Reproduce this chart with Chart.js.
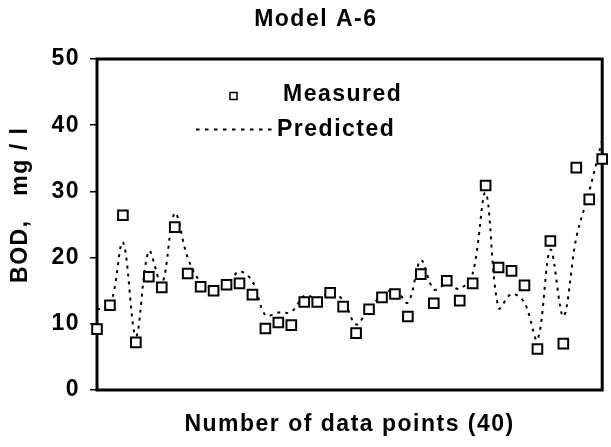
<!DOCTYPE html>
<html>
<head>
<meta charset="utf-8">
<script src="https://cdn.jsdelivr.net/npm/chart.js@4/dist/chart.umd.min.js"></script>
<style>
  body { margin: 0; background: #fff; }
  #wrap { width: 611px; height: 447px; }
</style>
</head>
<body>
<div id="wrap"><canvas id="myChart" width="611" height="447"></canvas></div>
<script>
// data points 1..40
const pointNumbers = [];
for (let i = 1; i <= 40; i++) pointNumbers.push(i);

const measured = [
  9.2, 12.8, 26.4, 7.2, 17.1, 15.5, 24.6, 17.6, 15.6, 15.0,
  15.9, 16.1, 14.4, 9.3, 10.2, 9.8, 13.3, 13.3, 14.7, 12.6,
  8.6, 12.2, 14.0, 14.5, 11.1, 17.5, 13.1, 16.5, 13.5, 16.1,
  30.9, 18.5, 18.0, 15.8, 6.2, 22.5, 7.0, 33.6, 28.8, 34.9
];

const predicted = [
  12.2, 12.6, 22.3, 8.1, 21.0, 16.0, 26.7, 20.0, 16.3, 15.4,
  15.9, 17.9, 16.4, 11.3, 11.7, 11.8, 14.2, 13.9, 14.6, 13.6,
  9.9, 12.4, 14.2, 15.2, 13.2, 19.6, 15.2, 16.0, 15.3, 17.6,
  29.8, 12.4, 14.5, 13.2, 7.6, 21.2, 11.1, 23.0, 30.0, 37.8
];

const yTicks = [0, 10, 20, 30, 40, 50];

const FONT = "'Liberation Sans', Arial, sans-serif";
const SPACING = '1.5px';

// Excel-like letter spacing for all text
const spacingPlugin = {
  id: 'spacing',
  beforeDraw(chart) { chart.ctx.letterSpacing = SPACING; },
  afterDraw(chart) { chart.ctx.letterSpacing = '0px'; }
};

// thick black frame around the plot area
const framePlugin = {
  id: 'frame',
  beforeDatasetsDraw(chart) {
    const a = chart.chartArea;
    const ctx = chart.ctx;
    ctx.save();
    ctx.strokeStyle = '#000';
    ctx.lineWidth = 3;
    ctx.strokeRect(a.left, a.top, a.right - a.left, a.bottom - a.top);
    ctx.restore();
  }
};

// legend inside the plot, as in the original
const legendPlugin = {
  id: 'innerLegend',
  afterDraw(chart) {
    const ctx = chart.ctx;
    ctx.save();
    ctx.letterSpacing = SPACING;
    ctx.fillStyle = '#fff';
    ctx.strokeStyle = '#000';
    ctx.lineWidth = 1.5;
    ctx.fillRect(230, 92.5, 7, 7);
    ctx.strokeRect(230, 92.5, 7, 7);

    ctx.lineWidth = 2;
    ctx.setLineDash([3.5, 5.5]);
    ctx.beginPath();
    ctx.moveTo(196, 129.5);
    ctx.lineTo(272, 129.5);
    ctx.stroke();
    ctx.setLineDash([]);

    ctx.fillStyle = '#000';
    ctx.font = 'bold 23px ' + FONT;
    ctx.textBaseline = 'middle';
    ctx.textAlign = 'left';
    ctx.fillText('Measured', 283, 95);
    ctx.fillText('Predicted', 277, 130);
    ctx.restore();
  }
};

const ctx = document.getElementById('myChart').getContext('2d');
const myChart = new Chart(ctx, {
  type: 'line',
  data: {
    labels: pointNumbers,
    datasets: [
      {
        label: 'Measured',
        data: measured,
        showLine: false,
        pointStyle: 'rect',
        pointRadius: 6.8,
        pointBorderWidth: 2,
        pointBorderColor: '#000',
        pointBackgroundColor: '#fff',
        clip: false
      },
      {
        label: 'Predicted',
        data: predicted,
        borderColor: '#000',
        borderWidth: 2,
        borderDash: [3, 5],
        tension: 0.35,
        pointRadius: 0,
        fill: false
      }
    ]
  },
  options: {
    responsive: false,
    animation: false,
    devicePixelRatio: 1,
    layout: { padding: { left: 0, right: 3, top: 0, bottom: 0 } },
    plugins: {
      legend: { display: false },
      tooltip: { enabled: false },
      title: {
        display: true,
        text: '   Model A-6',
        color: '#000',
        font: { family: FONT, size: 23, weight: 'bold' },
        padding: { top: 5.7, bottom: 25.7 }
      }
    },
    scales: {
      x: {
        type: 'linear',
        min: 1,
        max: 40,
        grid: { display: false },
        border: { display: false },
        ticks: { display: false },
        title: {
          display: true,
          text: 'Number of data points (40)',
          color: '#000',
          font: { family: FONT, size: 23, weight: 'bold' },
          padding: { top: 0, bottom: 8.2 }
        },
        afterFit(scale) { scale.height = 57; }
      },
      y: {
        min: 0,
        max: 50,
        afterBuildTicks(scale) { scale.ticks = yTicks.map(v => ({ value: v })); },
        grid: {
          drawOnChartArea: false,
          drawTicks: true,
          tickLength: 7,
          color: '#000',
          lineWidth: 1.5
        },
        border: { display: false },
        ticks: {
          color: '#000',
          padding: 10,
          font: { family: FONT, size: 23, weight: 'bold' }
        },
        title: {
          display: true,
          text: '     BOD,   mg / l',
          color: '#000',
          font: { family: FONT, size: 23, weight: 'bold' },
          padding: { top: 6.7, bottom: 0 }
        },
        afterFit(scale) { scale.width = 97; }
      }
    }
  },
  plugins: [spacingPlugin, framePlugin, legendPlugin]
});
</script>
</body>
</html>
